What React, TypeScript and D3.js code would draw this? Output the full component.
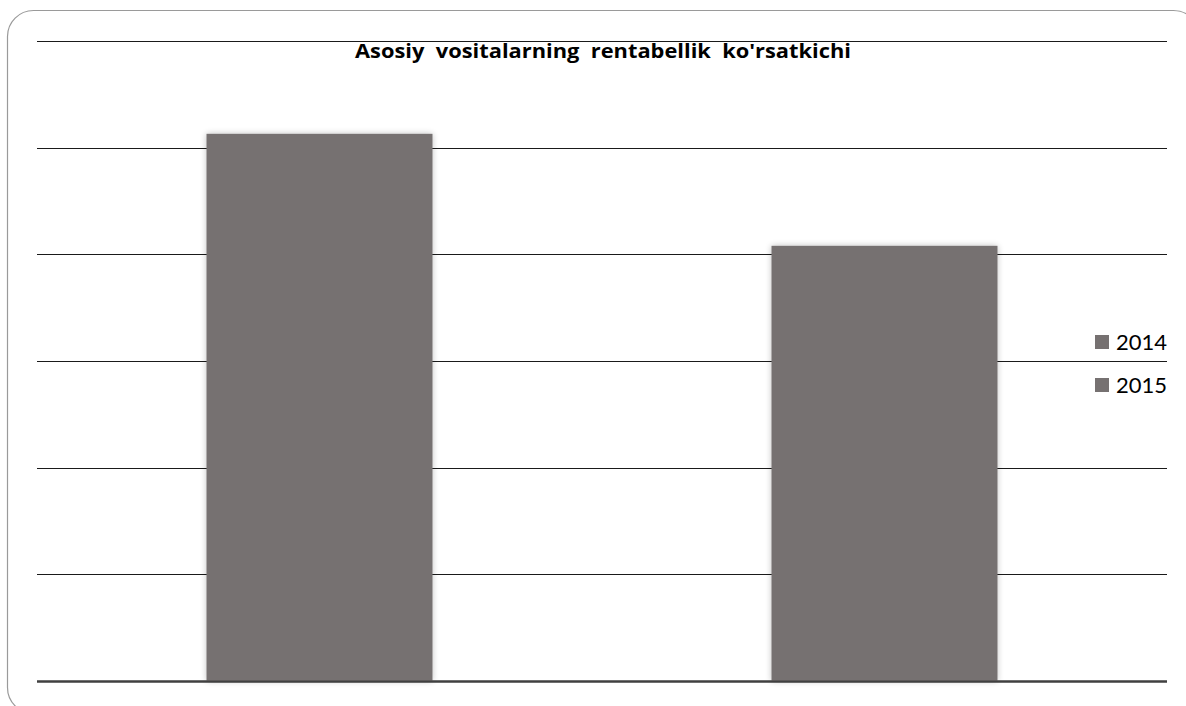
import React from "react";
import * as d3 from "d3";

const categories = ["2014", "2015"];
const values = [5.13, 4.08];
const legendLabels = ["2014", "2015"];
const yTicks = [0, 1, 2, 3, 4, 5, 6];
const title = "Asosiy  vositalarning  rentabellik  ko'rsatkichi";

export default function App() {
  const W = 1186, H = 706;
  const left = 37, right = 1167, top = 41, bottom = 681;
  const x = d3.scaleBand<string>().domain(categories).range([left, right]).paddingInner(0.6).paddingOuter(0.3);
  const y = d3.scaleLinear().domain([0, 6]).range([bottom, top]);
  const barColor = "#767171";
  return (
    <svg width={W} height={H} style={{ position: "absolute", left: 0, top: 0 }}>
      <defs>
        <filter id="sh" x="-10%" y="-10%" width="120%" height="120%">
          <feGaussianBlur in="SourceAlpha" stdDeviation="3" />
          <feComponentTransfer>
            <feFuncA type="linear" slope="0.25" />
          </feComponentTransfer>
          <feMerge>
            <feMergeNode />
            <feMergeNode in="SourceGraphic" />
          </feMerge>
        </filter>
      </defs>
      <rect x={0} y={0} width={W} height={H} fill="#fff" />
      <rect x={7.5} y={10.5} width={1192} height={703} rx={26} ry={26} fill="#fff" stroke="#9a9a9a" strokeWidth={1.2} />
      {yTicks.map((t) => (
        <line key={t} x1={left} x2={right} y1={Math.round(y(t)) + 0.5} y2={Math.round(y(t)) + 0.5}
          stroke={t === 0 ? "#404040" : "#1a1a1a"} strokeWidth={t === 0 ? 2 : 1.2} />
      ))}
      {categories.map((c, i) => (
        <rect key={c} x={x(c)} y={y(values[i])} width={x.bandwidth()} height={bottom - y(values[i])}
          fill={barColor} filter="url(#sh)" />
      ))}
      <line x1={left} x2={right} y1={bottom + 0.5} y2={bottom + 0.5} stroke="#404040" strokeWidth={2} />
      <text x={355} y={58} xmlSpace="preserve" style={{ whiteSpace: "pre" }} textLength={496} lengthAdjust="spacingAndGlyphs"
        fontFamily="Open Sans, sans-serif" fontWeight="bold" fontSize={20} fill="#000">
        {title}
      </text>
      {legendLabels.map((l, i) => (
        <g key={l} transform={`translate(1095, ${335 + i * 43})`}>
          <rect x={0} y={0} width={14} height={14} fill={barColor} />
          <text x={21} y={14.5} fontFamily="Lato, sans-serif" fontSize={22} fill="#000">{l}</text>
        </g>
      ))}
    </svg>
  );
}
